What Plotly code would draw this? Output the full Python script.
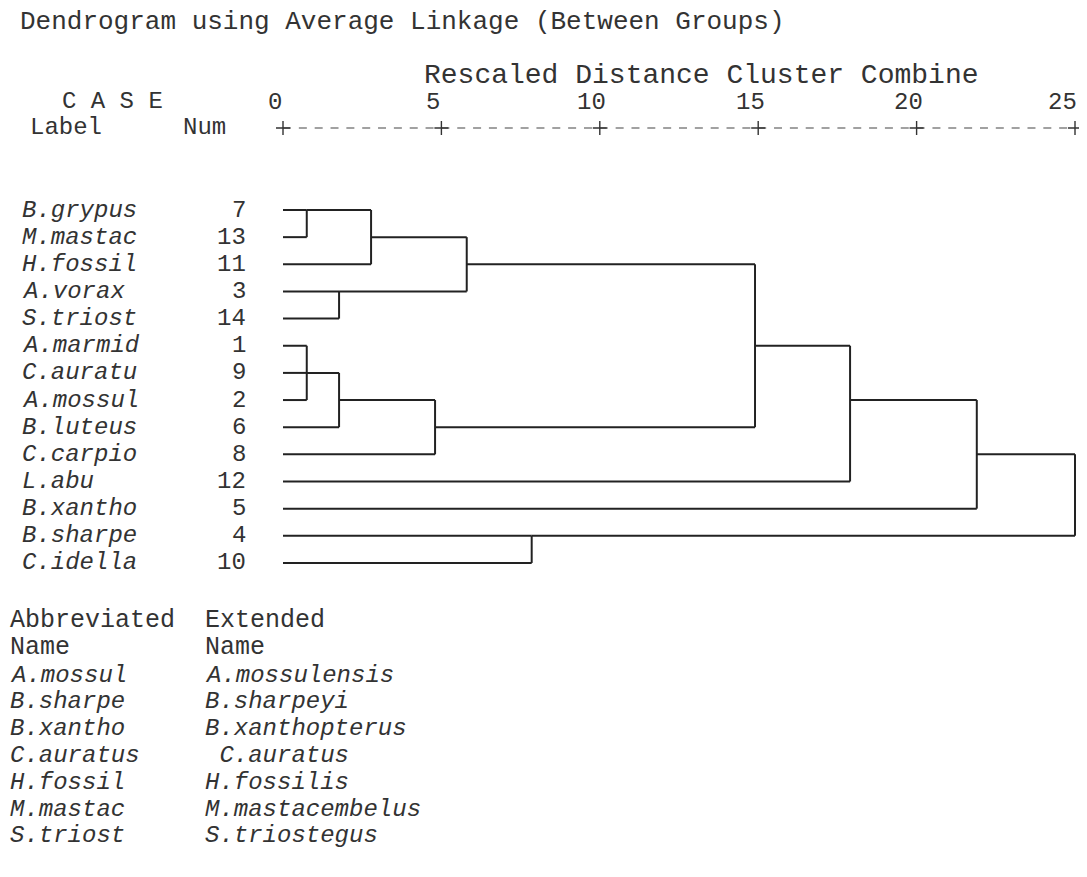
import plotly.graph_objects as go

# ---------------- data ----------------
leaf_labels = ["B.grypus", "M.mastac", "H.fossil", "A.vorax", "S.triost", "A.marmid", "C.auratu",
               "A.mossul", "B.luteus", "C.carpio", "L.abu", "B.xantho", "B.sharpe", "C.idella"]
leaf_nums = [7, 13, 11, 3, 14, 1, 9, 2, 6, 8, 12, 5, 4, 10]

# merges: children are case numbers (int) or earlier merges ("m<index>")
merge_children = [[7, 13], ["m0", 11], [3, 14], ["m1", "m2"], [1, 9, 2], ["m4", 6],
                  ["m5", 8], ["m3", "m6"], ["m7", 12], ["m8", 5], [4, 10], ["m9", "m10"]]
merge_heights = [0.75, 2.78, 1.77, 5.8, 0.75, 1.77, 4.8, 14.9, 17.9, 21.9, 7.85, 25.0]

tick_values = [0, 5, 10, 15, 20, 25]
tick_labels = ["0", "5", "10", "15", "20", "25"]

abbrev_names = ["A.mossul", "B.sharpe", "B.xantho", "C.auratus", "H.fossil", "M.mastac", "S.triost"]
extended_names = ["A.mossulensis", "B.sharpeyi", "B.xanthopterus", "\u00a0C.auratus",
                  "H.fossilis", "M.mastacembelus", "S.triostegus"]

title_text = "Dendrogram using Average Linkage (Between Groups)"
subtitle_text = "Rescaled Distance Cluster Combine"

# ---------------- layout constants ----------------
OFF = 8                               # page body margin
W, H = 1087 - 2 * OFF, 877 - 2 * OFF  # figure size (no scrollbars)
X0, UNIT = 283.0, 31.68               # screen pixel of distance 0, pixels per distance unit
ROW0, ROWH = 210.0, 27.15             # screen pixel of first row, pixels per row
FONT = "Liberation Mono, Courier New, monospace"
FS = 24
FS_BIG = 26
CHAR_W = 0.6 * FS                     # monospace advance width in px
TXT = "#333333"
LINE = "#222222"


def ux(px):
    return (px - X0) / UNIT


def uy(py):
    return (py - ROW0) / ROWH


def paper_x(px):
    return (px - OFF) / W


def paper_y(py):
    return 1 - (py - OFF) / H


# ---------------- dendrogram geometry ----------------
nodes = {}
for i, n in enumerate(leaf_nums):
    nodes[n] = (i, 0.0)  # (row, x)

xs, ys = [], []
for k, (children, h) in enumerate(zip(merge_children, merge_heights)):
    rows = []
    for c in children:
        r, x = nodes[c]
        xs += [x, h, None]
        ys += [r, r, None]
        rows.append(r)
    lo, hi = min(rows), max(rows)
    xs += [h, h, None]
    ys += [lo, hi, None]
    nodes["m%d" % k] = ((lo + hi) // 2, h)

fig = go.Figure()
fig.add_trace(go.Scatter(x=xs, y=ys, mode="lines", cliponaxis=False,
                         line=dict(color=LINE, width=2), hoverinfo="skip", showlegend=False))

# ruler
ruler_y = uy(128)
fig.add_trace(go.Scatter(x=[tick_values[0], tick_values[-1]], y=[ruler_y, ruler_y], mode="lines",
                         line=dict(color="#444444", width=1.2, dash="8px,7.84px"),
                         hoverinfo="skip", showlegend=False))
fig.add_trace(go.Scatter(x=tick_values, y=[ruler_y] * len(tick_values), mode="markers",
                         cliponaxis=False,
                         marker=dict(symbol="cross-thin", size=10, line=dict(color="#333333", width=1.4)),
                         hoverinfo="skip", showlegend=False))

annotations = []


def add_text(text, x, y, xanchor="left", italic=False, xref="paper", yref="paper", size=FS):
    annotations.append(dict(text=text, x=x, y=y, xref=xref, yref=yref, xanchor=xanchor,
                            yanchor="middle", showarrow=False,
                            font=dict(family=FONT, size=size, color=TXT,
                                      style="italic" if italic else "normal")))


# tick labels (kept inside the right edge of the figure)
x_right = ux(OFF + W)
for v, lab in zip(tick_values, tick_labels):
    half = (len(lab) * CHAR_W / 2 + 2) / UNIT
    add_text(lab, min(v - 0.25, x_right - half), uy(102), xanchor="center", xref="x", yref="y")

# headers
add_text(title_text, paper_x(18), paper_y(22), size=FS_BIG)
add_text(subtitle_text, paper_x(422), paper_y(75), size=28)
add_text("C A S E", paper_x(60), paper_y(102))
add_text("Label", paper_x(28), paper_y(128))
add_text("Num", paper_x(181), paper_y(128))

# row labels and numbers
for i, (lab, num) in enumerate(zip(leaf_labels, leaf_nums)):
    add_text(lab, ux(20), i, italic=True, xref="x", yref="y")
    add_text(str(num), ux(248), i, xanchor="right", xref="x", yref="y")

# abbreviation table
add_text("Abbreviated", paper_x(8), paper_y(620), size=25)
add_text("Extended", paper_x(203), paper_y(620), size=25)
add_text("Name", paper_x(8), paper_y(647), size=25)
add_text("Name", paper_x(203), paper_y(647), size=25)
for j, (a, e) in enumerate(zip(abbrev_names, extended_names)):
    yy = paper_y(675 + 26.8 * j)
    add_text(a, paper_x(8), yy, italic=True, size=FS)
    add_text(e, paper_x(203), yy, italic=True, size=FS)

fig.update_layout(
    width=W, height=H,
    margin=dict(l=0, r=0, t=0, b=0),
    paper_bgcolor="white", plot_bgcolor="white",
    xaxis=dict(range=[ux(OFF), ux(OFF + W)], visible=False, fixedrange=True),
    yaxis=dict(range=[uy(OFF + H), uy(OFF)], visible=False, fixedrange=True),
    annotations=annotations,
    showlegend=False,
)

fig.write_html("out.html", config={"displayModeBar": False})
